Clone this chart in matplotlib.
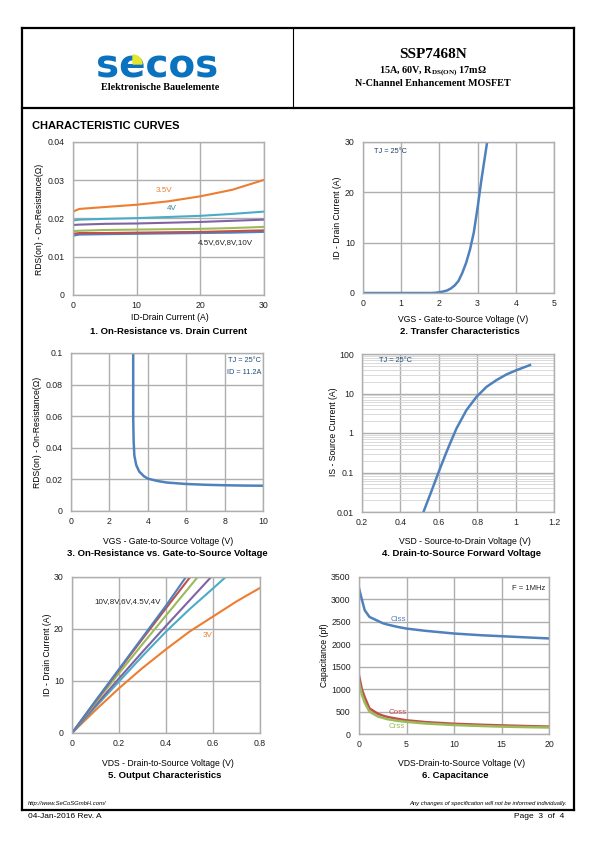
import numpy as np
import matplotlib
matplotlib.use('Agg')
import matplotlib.pyplot as plt
from matplotlib.patches import Wedge
from matplotlib.lines import Line2D
import matplotlib.ticker as mtick

plt.rcParams['font.family'] = ['Liberation Sans', 'DejaVu Sans']
plt.rcParams['mathtext.fontset'] = 'custom'
plt.rcParams['mathtext.rm'] = 'Liberation Serif:bold'
plt.rcParams['mathtext.bf'] = 'Liberation Serif:bold'

# ---- 1. RDS(on) vs ID ----
id1 = [0, 1, 5, 10, 15, 20, 25, 30]
rds_35v = [0.0218, 0.0225, 0.0230, 0.0236, 0.0245, 0.0258, 0.0275, 0.0301]
rds_4v = [0.0195, 0.0197, 0.0199, 0.0201, 0.0204, 0.0207, 0.0212, 0.0218]
rds_45v = [0.0183, 0.0184, 0.0186, 0.0187, 0.0189, 0.0191, 0.0194, 0.0197]
rds_6v = [0.0167, 0.0168, 0.0170, 0.0171, 0.0172, 0.0173, 0.0175, 0.0178]
rds_8v = [0.0160, 0.0162, 0.0162, 0.0163, 0.0164, 0.0165, 0.0167, 0.0169]
rds_10v = [0.0155, 0.0158, 0.0159, 0.0160, 0.0161, 0.0162, 0.0163, 0.0165]

# ---- 2. transfer ----
vgs2 = [0, 1.8, 1.9, 2.0, 2.1, 2.2, 2.3, 2.4, 2.5, 2.6, 2.7, 2.8, 2.9, 3.0, 3.1, 3.2, 3.25]
id2 = [0, 0, 0.05, 0.15, 0.3, 0.5, 0.9, 1.5, 2.4, 4.0, 6.0, 8.6, 12.0, 17.0, 22.5, 27.5, 30.0]

# ---- 3. RDS(on) vs VGS ----
vgs3 = [3.24, 3.24, 3.26, 3.3, 3.4, 3.55, 3.8, 4.0, 4.5, 5, 6, 7, 8, 9, 10]
rds3 = [0.1, 0.06, 0.045, 0.035, 0.029, 0.025, 0.022, 0.0205, 0.019,
        0.018, 0.0171, 0.0166, 0.0163, 0.0161, 0.016]

# ---- 4. body diode ----
vsd4 = [0.52, 0.56, 0.6, 0.64, 0.666, 0.692, 0.744, 0.797, 0.849, 0.901, 0.953, 1.005, 1.075]
is4 = [0.01, 0.032, 0.105, 0.33, 0.66, 1.3, 3.8, 8.3, 14.8, 21.9, 30.5, 39.0, 52.5]

# ---- 5. output characteristics ----
vds5_10v = [0, 0.1, 0.2, 0.3, 0.4, 0.485]
id5_10v = [0, 6.2, 12.3, 18.4, 24.5, 30]
vds5_8v = [0, 0.1, 0.2, 0.3, 0.4, 0.503]
id5_8v = [0, 6.1, 12.1, 18.1, 24.0, 30]
vds5_6v = [0, 0.1, 0.2, 0.3, 0.4, 0.535]
id5_6v = [0, 5.8, 11.5, 17.1, 22.6, 30]
vds5_45v = [0, 0.1, 0.2, 0.3, 0.4, 0.5, 0.592]
id5_45v = [0, 5.3, 10.5, 15.6, 20.6, 25.5, 30]
vds5_4v = [0, 0.1, 0.2, 0.3, 0.4, 0.5, 0.6, 0.654]
id5_4v = [0, 5.0, 9.9, 14.8, 19.5, 23.8, 27.8, 30]
vds5_3v = [0, 0.1, 0.2, 0.3, 0.4, 0.5, 0.6, 0.7, 0.8]
id5_3v = [0, 4.4, 8.6, 12.5, 16.1, 19.5, 22.4, 25.3, 27.9]

# ---- 6. capacitance ----
vds6 = [0, 0.3, 0.6, 1.1, 2, 2.5, 3, 4, 5, 7, 10, 13, 15, 18, 20]
ciss = [3250, 3000, 2760, 2610, 2520, 2470, 2440, 2390, 2350, 2300, 2240, 2200, 2180, 2150, 2130]
coss = [1300, 1000, 820, 570, 450, 410, 380, 340, 305, 265, 228, 205, 192, 175, 165]
crss = [1150, 880, 700, 500, 390, 360, 330, 295, 270, 235, 200, 178, 165, 152, 145]

C_BLUE = '#4F81BD'
C_RED = '#C0504D'
C_GREEN = '#9BBB59'
C_PURPLE = '#8064A2'
C_TEAL = '#4BACC6'
C_ORANGE = '#ED7D31'
GRID = '#AEAEAE'

W, H = 595, 842
fig = plt.figure(figsize=(5.95, 8.42), dpi=100)


def fx(x):
    return x / W


def fy(y):
    return 1 - y / H


def hline(x0, x1, y, lw):
    fig.add_artist(Line2D([fx(x0), fx(x1)], [fy(y), fy(y)], transform=fig.transFigure, color='black', lw=lw))


def vline(x, y0, y1, lw):
    fig.add_artist(Line2D([fx(x), fx(x)], [fy(y0), fy(y1)], transform=fig.transFigure, color='black', lw=lw))


def new_axes(l, t, r, b, xlim, ylim, xticks, yticks):
    ax = fig.add_axes([fx(l), fy(b), (r - l) / W, (b - t) / H])
    ax.set_xlim(xlim)
    ax.set_ylim(ylim)
    ax.set_xticks(xticks)
    if yticks is not None:
        ax.set_yticks(yticks)
    ax.xaxis.set_major_formatter(mtick.FormatStrFormatter('%g'))
    ax.yaxis.set_major_formatter(mtick.FormatStrFormatter('%g'))
    ax.grid(True, color=GRID, lw=1.0)
    ax.set_axisbelow(True)
    for s in ax.spines.values():
        s.set_color(GRID)
        s.set_linewidth(1.0)
    ax.tick_params(length=0, labelsize=6.3, pad=4, colors='#222222')
    ax.tick_params(axis='y', pad=6)
    return ax


def labels(xl, xlx, xly, yl, ylx, yly, tl, tlx, tly):
    fig.text(fx(xlx), fy(xly), xl, ha='center', va='center', fontsize=6.2)
    fig.text(fx(ylx), fy(yly), yl, ha='center', va='center', fontsize=6.2, rotation=90)
    fig.text(fx(tlx), fy(tly), tl, ha='center', va='center', fontsize=6.8, fontweight='bold')


# page frame
hline(22, 574, 28, 1.6)
hline(22, 574, 108, 1.6)
hline(22, 574, 810, 1.6)
vline(22, 28, 810, 1.6)
vline(574, 28, 810, 1.6)
vline(293, 28, 108, 0.8)

# logo
fig.text(fx(96), fy(77), 'secos', fontsize=28, fontweight='bold', color='#0A72BE',
         family='DejaVu Sans', ha='left', va='baseline')
fig.add_artist(Wedge((133 / 100, (H - 64) / 100), 0.09, 0, 90, transform=fig.dpi_scale_trans,
                     color='#E4E62C', zorder=5))
fig.text(fx(160), fy(88), 'Elektronische Bauelemente', fontsize=7.3, fontweight='bold',
         family='Liberation Serif', ha='center', va='center')

# header right
fig.text(fx(433), fy(54), 'SSP7468N', fontsize=11, fontweight='bold',
         family='Liberation Serif', ha='center', va='center')
fig.text(fx(433), fy(71), r'15A, 60V, R$_{\mathbf{DS(ON)}}$ 17m$\mathbf{\Omega}$', fontsize=7.3,
         fontweight='bold', family='Liberation Serif', ha='center', va='center')
fig.text(fx(433), fy(83), 'N-Channel Enhancement MOSFET', fontsize=7.3, fontweight='bold',
         family='Liberation Serif', ha='center', va='center')

fig.text(fx(32), fy(126), 'CHARACTERISTIC CURVES', fontsize=8, fontweight='bold', ha='left', va='center')

# ---- chart 1 ----
ax1 = new_axes(73, 142, 264, 295, (0, 30), (0, 0.04), [0, 10, 20, 30], [0, 0.01, 0.02, 0.03, 0.04])
ax1.plot(id1, rds_10v, color=C_BLUE, lw=1.5)
ax1.plot(id1, rds_8v, color=C_RED, lw=1.5)
ax1.plot(id1, rds_6v, color=C_GREEN, lw=1.5)
ax1.plot(id1, rds_45v, color=C_PURPLE, lw=1.5)
ax1.plot(id1, rds_4v, color=C_TEAL, lw=1.5)
ax1.plot(id1, rds_35v, color=C_ORANGE, lw=1.5)
ax1.text(13, 0.0268, '3.5V', color=C_ORANGE, fontsize=5.8)
ax1.text(14.8, 0.0222, '4V', color='#31849B', fontsize=5.8)
ax1.text(19.6, 0.0133, '4.5V,6V,8V,10V', color='#222222', fontsize=5.8)
labels('ID-Drain Current (A)', 170, 318, 'RDS(on) - On-Resistance(Ω)', 40, 219,
       '1. On-Resistance vs. Drain Current', 169, 331)

# ---- chart 2 ----
ax2 = new_axes(363, 142, 554, 293, (0, 5), (0, 30), [0, 1, 2, 3, 4, 5], [0, 10, 20, 30])
ax2.plot(vgs2, id2, color=C_BLUE, lw=1.8)
ax2.text(0.28, 28.2, 'TJ = 25°C', color='#1F3F66', fontsize=5.3, va='center')
labels('VGS - Gate-to-Source Voltage (V)', 463, 320, 'ID - Drain Current (A)', 338, 218,
       '2. Transfer Characteristics', 460, 332)

# ---- chart 3 ----
ax3 = new_axes(71, 353, 263, 511, (0, 10), (0, 0.1), [0, 2, 4, 6, 8, 10], [0, 0.02, 0.04, 0.06, 0.08, 0.1])
ax3.plot(vgs3, rds3, color=C_BLUE, lw=1.8)
ax3.text(9.9, 0.0955, 'TJ = 25°C', color='#1F4E79', fontsize=5.3, ha='right', va='center')
ax3.text(9.9, 0.0875, 'ID = 11.2A', color='#1F4E79', fontsize=5.3, ha='right', va='center')
labels('VGS - Gate-to-Source Voltage (V)', 168, 541, 'RDS(on) - On-Resistance(Ω)', 37, 432,
       '3. On-Resistance vs. Gate-to-Source Voltage', 167, 553)

# ---- chart 4 ----
ax4 = new_axes(362, 354, 554, 512, (0.2, 1.2), (0.01, 100), [0.2, 0.4, 0.6, 0.8, 1.0, 1.2], None)
ax4.set_yscale('log')
ax4.set_ylim(0.01, 100)
ax4.yaxis.set_major_locator(mtick.FixedLocator([0.01, 0.1, 1, 10, 100]))
ax4.yaxis.set_major_formatter(mtick.FixedFormatter(['0.01', '0.1', '1', '10', '100']))
ax4.yaxis.set_minor_locator(mtick.LogLocator(base=10, subs=np.arange(2, 10)))
ax4.yaxis.set_minor_formatter(mtick.NullFormatter())
ax4.grid(True, which='minor', axis='y', color='#D4D4D4', lw=0.6)
ax4.tick_params(which='minor', length=0)
ax4.plot(vsd4, is4, color=C_BLUE, lw=1.8)
ax4.text(0.29, 70, 'TJ = 25°C', color='#1F4E79', fontsize=5.3, va='center')
labels('VSD - Source-to-Drain Voltage (V)', 465, 541, 'IS - Source Current (A)', 333, 432,
       '4. Drain-to-Source Forward Voltage', 461, 553)

# ---- chart 5 ----
ax5 = new_axes(72, 577, 260, 733, (0, 0.8), (0, 30), [0, 0.2, 0.4, 0.6, 0.8], [0, 10, 20, 30])
ax5.plot(vds5_3v, id5_3v, color=C_ORANGE, lw=1.5)
ax5.plot(vds5_4v, id5_4v, color=C_TEAL, lw=1.5)
ax5.plot(vds5_45v, id5_45v, color=C_PURPLE, lw=1.5)
ax5.plot(vds5_6v, id5_6v, color=C_GREEN, lw=1.5)
ax5.plot(vds5_8v, id5_8v, color=C_RED, lw=1.5)
ax5.plot(vds5_10v, id5_10v, color=C_BLUE, lw=1.5)
ax5.text(0.094, 25.3, '10V,8V,6V,4.5V,4V', color='#222222', fontsize=5.8, va='center')
ax5.text(0.555, 18.8, '3V', color=C_ORANGE, fontsize=5.8, va='center')
labels('VDS - Drain-to-Source Voltage (V)', 168, 763, 'ID - Drain Current (A)', 47, 655,
       '5. Output Characteristics', 165, 775)

# ---- chart 6 ----
ax6 = new_axes(359, 577, 549, 734, (0, 20), (0, 3500), [0, 5, 10, 15, 20], np.arange(0, 3501, 500))
ax6.plot(vds6, ciss, color=C_BLUE, lw=1.8)
ax6.plot(vds6, coss, color=C_RED, lw=1.8)
ax6.plot(vds6, crss, color=C_GREEN, lw=1.8)
ax6.text(3.3, 2560, 'Ciss', color=C_BLUE, fontsize=5.8, va='center')
ax6.text(3.1, 470, 'Coss', color=C_RED, fontsize=5.8, va='center')
ax6.text(3.1, 165, 'Crss', color=C_GREEN, fontsize=5.8, va='center')
ax6.text(19.6, 3250, 'F = 1MHz', color='#222222', fontsize=5.5, ha='right', va='center')
labels('VDS-Drain-to-Source Voltage (V)', 462, 763, 'Capacitance (pf)', 325, 655,
       '6. Capacitance', 455, 775)

# footer
fig.text(fx(28), fy(804), 'http://www.SeCoSGmbH.com/', fontsize=4.2, style='italic', ha='left', va='center')
fig.text(fx(567), fy(804), 'Any changes of specification will not be informed individually.',
         fontsize=4.2, style='italic', ha='right', va='center')
fig.text(fx(28), fy(817), '04-Jan-2016 Rev. A', fontsize=6, ha='left', va='center')
fig.text(fx(564), fy(817), 'Page  3  of  4', fontsize=6, ha='right', va='center')

fig.savefig('out.png', dpi=100)
